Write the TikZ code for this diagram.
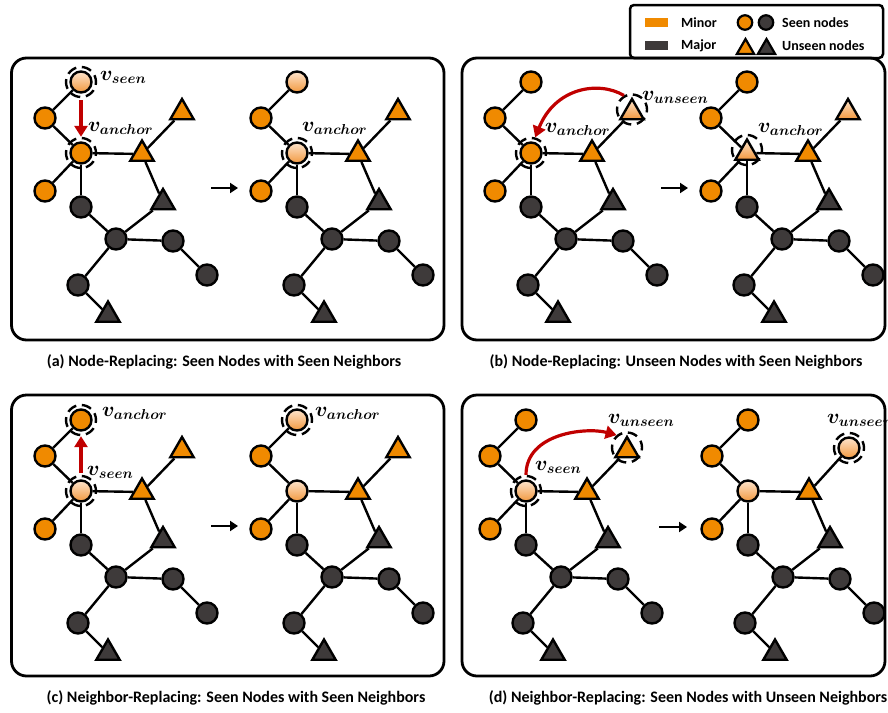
\documentclass[tikz,border=0pt]{standalone}
\usepackage{bm}
\usepackage{fontspec}
\setmainfont{Carlito}
\usetikzlibrary{arrows.meta,shapes.geometric}

\definecolor{minororange}{RGB}{240,138,0}
\definecolor{majorgray}{RGB}{62,58,58}
\definecolor{lighttop}{RGB}{253,228,204}
\definecolor{lightbot}{RGB}{242,152,62}
\definecolor{arrowred}{RGB}{192,0,0}

\tikzset{
  gnode/.style={draw=black, line width=2.4pt, circle, minimum size=21pt, inner sep=0pt},
  corange/.style={gnode, fill=minororange},
  cdark/.style={gnode, fill=majorgray},
  clight/.style={gnode, top color=lighttop, bottom color=lightbot},
  tnode/.style={draw=black, line width=2.4pt, regular polygon, regular polygon sides=3,
                minimum size=27pt, inner sep=0pt},
  torange/.style={tnode, fill=minororange},
  tdark/.style={tnode, fill=majorgray},
  tlight/.style={tnode, top color=lighttop, bottom color=lightbot},
  gedge/.style={draw=black, line width=2.4pt},
  ring/.style={circle, draw=black, line width=2.4pt, minimum size=30pt, inner sep=0pt,
               dash pattern=on 10pt off 5.7pt, dash phase=3pt},
  redarrow/.style={draw=arrowred, line width=3.2pt, -{Triangle[length=11pt,width=13pt]}},
  stepmark/.style={draw=black, line width=2.6pt, -{Triangle[length=8pt,width=10pt]}},
  panelbox/.style={draw=black, line width=2.8pt, rounded corners=15pt},
  legendbox/.style={draw=black, line width=2.5pt, rounded corners=4pt, fill=white},
  caption/.style={font=\fontsize{16}{19}\selectfont\bfseries, inner sep=0pt},
  legtext/.style={font=\fontsize{14}{17}\selectfont\bfseries, anchor=west, inner sep=0pt},
  vlabel/.style={anchor=base west, inner sep=0pt, font=\fontsize{20.74}{24}\selectfont},
  % one small network; #1 top node, #2 anchor node, #3 upper right node
  pics/netgraph/.style n args={3}{code={
    \node[#1] (-S) at (81,82) {};
    \node[corange] (-L1) at (45,118) {};
    \node[#2] (-A) at (81,153) {};
    \node[corange] (-L2) at (45,191) {};
    \node[cdark] (-D1) at (81,207) {};
    \node[cdark] (-C) at (116,239) {};
    \node[cdark] (-R1) at (173,241) {};
    \node[cdark] (-R2) at (207,275) {};
    \node[cdark] (-B1) at (78,285) {};
    \node[torange] (-TM) at (142,154) {};
    \node[#3] (-TT) at (182,112.5) {};
    \node[tdark] (-TR) at (163,202.5) {};
    \node[tdark] (-TB) at (108,315) {};
    \draw[gedge] (-S) -- (-L1);
    \draw[gedge] (-L1) -- (-A);
    \draw[gedge] (-A) -- (-L2);
    \draw[gedge] (-A) -- (-D1);
    \draw[gedge] (-A) -- (-TM);
    \draw[gedge] (-TM) -- (-TT);
    \draw[gedge] (-TM) -- (-TR);
    \draw[gedge] (-TR) -- (-C);
    \draw[gedge] (-D1) -- (-C);
    \draw[gedge] (-C) -- (-R1);
    \draw[gedge] (-R1) -- (-R2);
    \draw[gedge] (-C) -- (-B1);
    \draw[gedge] (-B1) -- (-TB);
  }},
}

\begin{document}
\begin{tikzpicture}[x=1pt, y=-1pt]
\useasboundingbox (0,0) rectangle (888,712);

% legend
\draw[legendbox] (630,5) rectangle (883,58);
\fill[minororange] (645,18) rectangle (668,27);
\fill[majorgray] (645,41) rectangle (668,50);
\node[legtext] (lminor) at (681,22.5) {Minor};
\node[legtext] (lmajor) at (681,45.5) {Major};
\node[corange, minimum size=14.5pt, line width=2.2pt] (lco) at (745,22.5) {};
\node[cdark, minimum size=14.5pt, line width=2.2pt] (lcd) at (766,22.5) {};
\node[torange, minimum size=20pt, line width=2.2pt] (lto) at (745.5,49) {};
\node[tdark, minimum size=20pt, line width=2.2pt] (ltd) at (766.5,49) {};
\node[legtext] (lseen) at (782,22.5) {Seen nodes};
\node[legtext] (lunseen) at (782,45.5) {Unseen nodes};

% panel frames
\draw[panelbox] (11.5,58) rectangle (444,340);
\draw[panelbox] (462,58) rectangle (885,340);
\draw[panelbox] (11.5,395) rectangle (444,676);
\draw[panelbox] (462,395) rectangle (885,676);

% networks before and after each replacement
\pic (pa1) at (0,0) {netgraph={clight}{corange}{torange}};
\pic (pa2) at (216,0) {netgraph={clight}{clight}{torange}};
\pic (pb1) at (450,0) {netgraph={corange}{corange}{tlight}};
\pic (pb2) at (666,0) {netgraph={corange}{tlight}{tlight}};
\pic (pc1) at (0,338) {netgraph={corange}{clight}{torange}};
\pic (pc2) at (216,338) {netgraph={clight}{clight}{torange}};
\pic (pd1) at (445,338) {netgraph={corange}{clight}{torange}};
\pic (pd2) at (667,338) {netgraph={corange}{clight}{{clight,yshift=2.5pt}}};

% dashed rings marking the nodes involved
\node[ring] (ra1s) at (pa1-S) {};
\node[ring] (ra1a) at (pa1-A) {};
\node[ring] (ra2a) at (pa2-A) {};
\node[ring] (rb1t) at ([yshift=3pt]pb1-TT.center) {};
\node[ring] (rb1a) at (pb1-A) {};
\node[ring] (rb2a) at ([yshift=3pt]pb2-A.center) {};
\node[ring] (rc1s) at (pc1-S) {};
\node[ring] (rc1a) at (pc1-A) {};
\node[ring] (rc2s) at (pc2-S) {};
\node[ring] (rd1a) at (pd1-A) {};
\node[ring] (rd1t) at ([yshift=3pt]pd1-TT.center) {};
\node[ring] (rd2t) at (pd2-TT) {};

% replacement arrows
\draw[redarrow, shorten <=2pt] (ra1s.south) -- (ra1a.north);
\draw[redarrow] (rb1t.120) .. controls +(-25,-15) and +(20,-50) .. (rb1a.75);
\draw[redarrow, shorten <=2pt] (rc1a.north) -- (rc1s.south);
\draw[redarrow] (rd1a.north) .. controls +(0,-42) and +(-30,-8) .. (rd1t.130);

% before -> after
\coordinate (sa1) at (211,188); \coordinate (sa2) at (238,188);
\coordinate (sb1) at (661,188); \coordinate (sb2) at (688,188);
\coordinate (sc1) at (211,526); \coordinate (sc2) at (238,526);
\coordinate (sd1) at (659,527); \coordinate (sd2) at (687,527);
\draw[stepmark] (sa1) -- (sa2);
\draw[stepmark] (sb1) -- (sb2);
\draw[stepmark] (sc1) -- (sc2);
\draw[stepmark] (sd1) -- (sd2);

% node labels
\node[vlabel] (va1s) at (100,80) {$\bm{v}_{\bm{seen}}$};
\node[vlabel] (va1a) at (88,131) {$\bm{v}_{\bm{anchor}}$};
\node[vlabel] (va2a) at (302,131) {$\bm{v}_{\bm{anchor}}$};
\node[vlabel] (vb1u) at (642,100) {$\bm{v}_{\bm{unseen}}$};
\node[vlabel] (vb1a) at (545,132) {$\bm{v}_{\bm{anchor}}$};
\node[vlabel] (vb2a) at (758,132) {$\bm{v}_{\bm{anchor}}$};
\node[vlabel] (vc1a) at (102,416) {$\bm{v}_{\bm{anchor}}$};
\node[vlabel] (vc1s) at (87,475) {$\bm{v}_{\bm{seen}}$};
\node[vlabel] (vc2a) at (315,416) {$\bm{v}_{\bm{anchor}}$};
\node[vlabel] (vd1u) at (608,423) {$\bm{v}_{\bm{unseen}}$};
\node[vlabel] (vd1s) at (535,470) {$\bm{v}_{\bm{seen}}$};
\node[vlabel] (vd2u) at (827,423) {$\bm{v}_{\bm{unseen}}$};

% captions
\node[caption] (capa) at (224,362) {(a) Node-Replacing: Seen Nodes with Seen Neighbors};
\node[caption] (capb) at (676,362) {(b) Node-Replacing: Unseen Nodes with Seen Neighbors};
\node[caption] (capc) at (236,698) {(c) Neighbor-Replacing: Seen Nodes with Seen Neighbors};
\node[caption] (capd) at (688,698) {(d) Neighbor-Replacing: Seen Nodes with Unseen Neighbors};
\end{tikzpicture}
\end{document}
